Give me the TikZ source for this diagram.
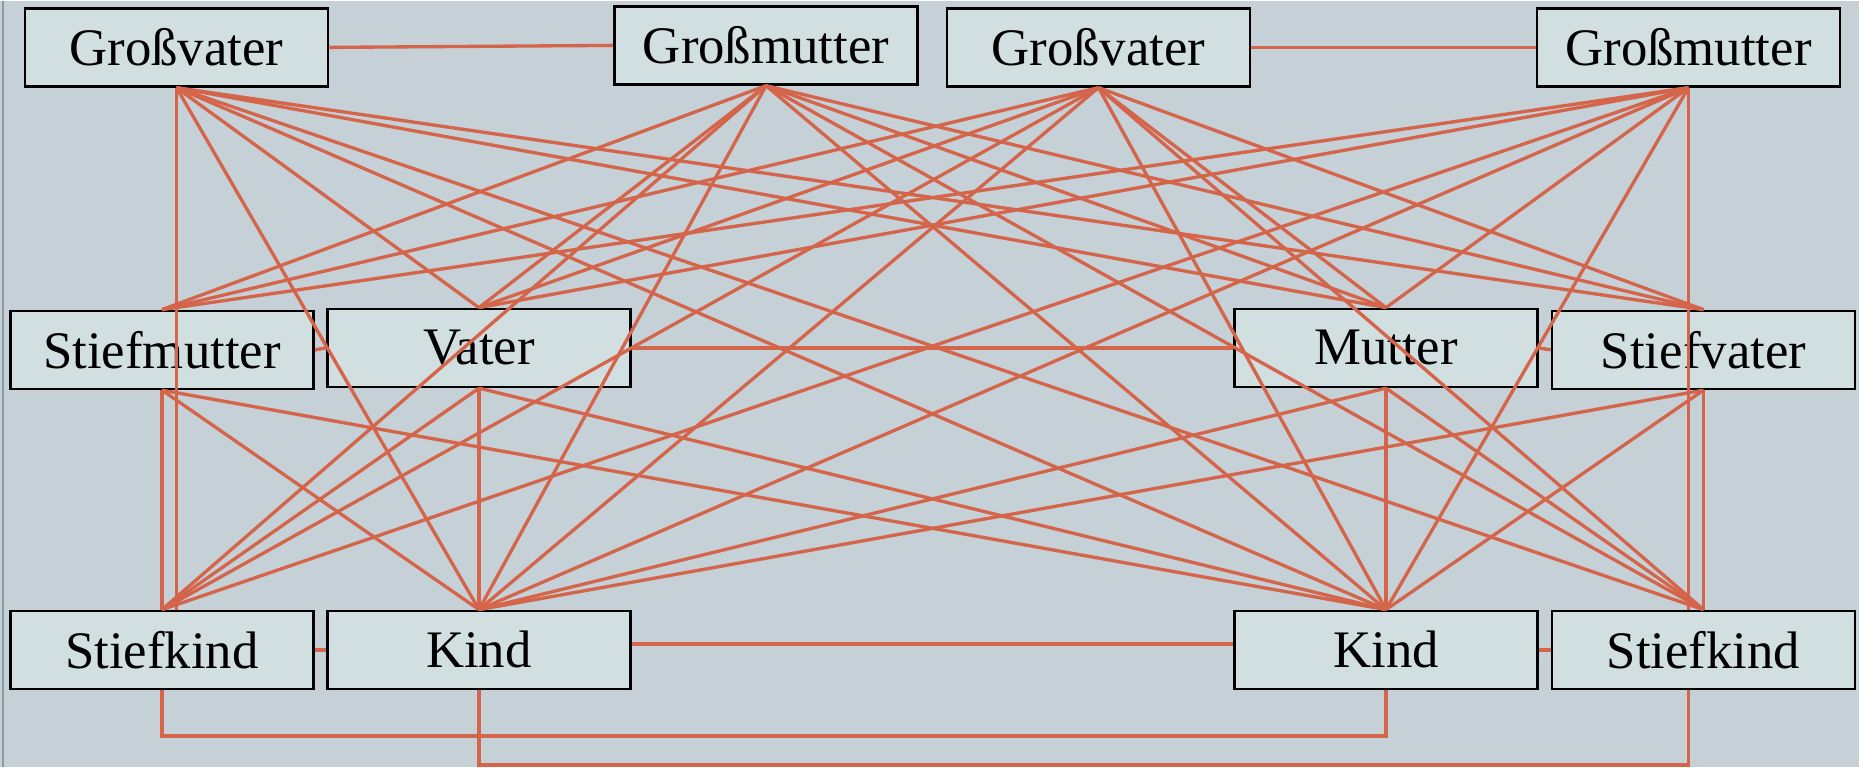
\documentclass[tikz,border=0pt]{standalone}
\usepackage{fontspec}
\setmainfont{Liberation Serif}
\usepackage{xcolor}
\usepackage{tikz}
\definecolor{famback}{HTML}{C6D1D7}
\definecolor{boxfill}{HTML}{D1DFE0}
\definecolor{tiecol}{HTML}{D4654B}
\definecolor{rimgray}{HTML}{8C9CA1}

\begin{document}
\begin{tikzpicture}[x=0.01cm, y=-0.01cm,
                    person/.style={draw=black, line width=0.7pt, fill=boxfill,
                                   minimum width=3.03cm, minimum height=0.78cm, inner sep=0pt,
                                   font=\fontsize{15}{18}\selectfont},
                    tie/.style={tiecol, line width=0.95pt},
                   ]

\fill[famback] (0,0) rectangle (1859,766);
\draw[rimgray, line width=0.5pt] (3,0) -- (3,766);

% grandparents
\node[person] (gv1) at (176.5,46.5) {Großvater};
\node[person] (gm1) at (766,44.5) {Großmutter};
\node[person] (gv2) at (1098.5,46.5) {Großvater};
\node[person] (gm2) at (1688.5,46.5) {Großmutter};

% parents
\node[person] (stm) at (162,349) {Stiefmutter};
\node[person] (va) at (479,347) {Vater};
\node[person] (mu) at (1386,347) {Mutter};
\node[person] (stv) at (1703.5,349) {Stiefvater};

% children
\node[person] (stk1) at (162,649) {Stiefkind};
\node[person] (ki1) at (479,649) {Kind};
\node[person] (ki2) at (1386,649) {Kind};
\node[person] (stk2) at (1703.5,649) {Stiefkind};

% same row
\foreach \a/\b in {gv1/gm1, gv2/gm2, stm/va, va/mu, mu/stv, stk1/ki1, ki2/stk2}
  \draw[tie] (\a.east) -- (\b.west);
\draw[tie] ([yshift=0.06cm]ki1.east) -- ([yshift=0.06cm]ki2.west);

% downwards
\foreach \a/\b in {gv1/va, gv1/mu, gv1/stv, gv1/ki1, gv1/ki2, gv1/stk2,
                   gm1/stm, gm1/va, gm1/mu, gm1/stv, gm1/stk1, gm1/ki1, gm1/ki2, gm1/stk2,
                   gv2/stm, gv2/va, gv2/mu, gv2/stv, gv2/stk1, gv2/ki1, gv2/ki2, gv2/stk2,
                   gm2/stm, gm2/va, gm2/mu, gm2/stk1, gm2/ki1, gm2/ki2,
                   stm/stk1, stm/ki1, stm/ki2, va/stk1, va/ki1, va/ki2,
                   mu/ki1, mu/ki2, mu/stk2, stv/ki1, stv/ki2, stv/stk2}
  \draw[tie] (\a.south) -- (\b.north);

\draw[tie] (gv1.south) -- (gv1.south |- stk1.north);
\draw[tie] (gm2.south) -- (gm2.south |- stk2.north);

% below
\draw[tie] (stk1.south) -- ++(0,46) -| (ki2.south);
\draw[tie] (ki1.south) -- ++(0,75) -| (gm2.south |- stk2.south);

\end{tikzpicture}
\end{document}
